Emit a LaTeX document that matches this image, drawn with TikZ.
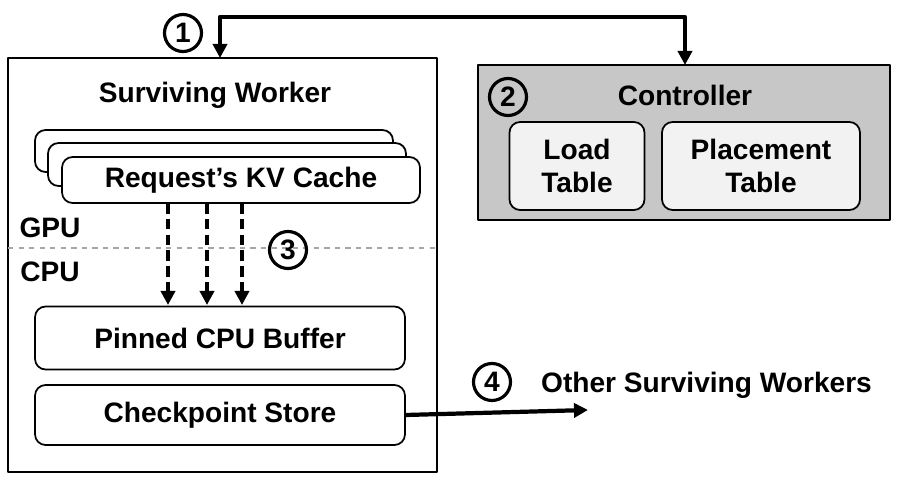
\documentclass[tikz,border=0pt]{standalone}
\usepackage{fontspec}
\setmainfont{Liberation Sans}
\usepackage{tikz}
\usetikzlibrary{arrows.meta}

\tikzset{
  lbl/.style={font=\fontsize{16}{19}\selectfont\bfseries},
  rbox/.style={draw,rounded corners=6pt,fill=white,line width=1pt},
  num/.style={draw,circle,line width=1.8pt,minimum size=0.74cm,inner sep=0pt,font=\fontsize{16}{19}\selectfont\bfseries},
  arr/.style={-{Triangle[length=8pt,width=8pt]},line width=2.4pt}
}

\begin{document}
\begin{tikzpicture}[x=0.02cm,y=-0.02cm,join=round]
\useasboundingbox (0,0) rectangle (897,479);
% Worker and controller
\draw[line width=1.2pt] (8,58) rectangle (437,472);
\node[lbl] (worker) at (215,95) {Surviving Worker};
\filldraw[fill=black!22,line width=1.2pt] (478,65) rectangle (890,220);
\node[lbl] (ctrl) at (685,95) {Controller};
\node[num] (n2) at (508,97) {2};
\node[rbox,fill=black!5,minimum width=2.7cm,minimum height=1.76cm,lbl,align=center] (load) at (577,166) {Load\\Table};
\node[rbox,fill=black!5,minimum width=3.96cm,minimum height=1.76cm,lbl,align=center] (place) at (761,166) {Placement\\Table};
% KV cache stack
\draw[rbox] (35,130) rectangle (393,172);
\draw[rbox] (48,143) rectangle (406,186);
\node[rbox,minimum width=7.16cm,minimum height=0.92cm,lbl] (cache) at (241,180) {Request's KV Cache};
% GPU / CPU split
\draw[dashed,black!35,line width=1pt] (8,248) -- (437,248);
\node[lbl] (gpu) at (50,228) {GPU};
\node[lbl] (cpu) at (50,272) {CPU};
\node[num] (n3) at (288,250) {3};
\node[rbox,minimum width=7.4cm,minimum height=1.26cm,lbl] (buf) at (220,338) {Pinned CPU Buffer};
\node[rbox,minimum width=7.4cm,minimum height=1.2cm,lbl] (store) at (220,415) {Checkpoint Store};
\foreach \x in {168,207,242}
  \draw[arr,dash pattern=on 6pt off 3pt,line width=2.2pt] (\x,203) -- (\x,305);
% links
\node[num] (n1) at (183,33) {1};
\coordinate (top) at (220,58);
\coordinate (ctop) at (685,65);
\draw[{Triangle[length=8pt,width=8pt]}-{Triangle[length=8pt,width=8pt]},line width=2.4pt] (top) -- (220,17) -- (685,17) -- (ctop);
\coordinate (out) at (588,410);
\draw[arr] (store.east) -- (out);
\node[num] (n4) at (492,382) {4};
\node[lbl,anchor=west] (others) at (535,385) {Other Surviving Workers};
\end{tikzpicture}
\end{document}
